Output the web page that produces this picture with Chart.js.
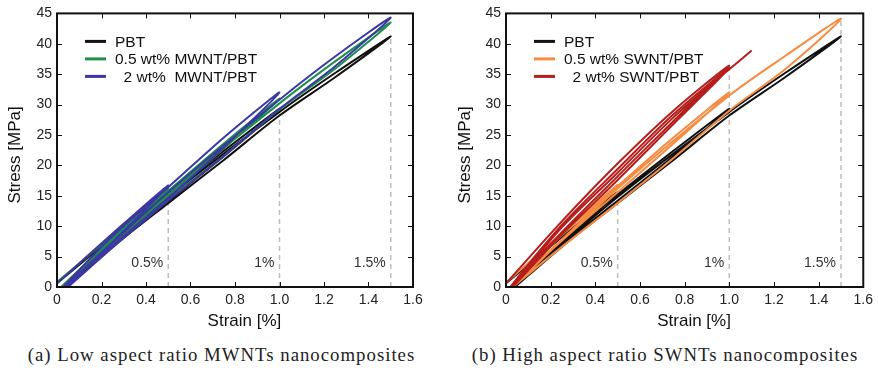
<!DOCTYPE html>
<html>
<head>
<meta charset="utf-8">
<script src="https://cdn.jsdelivr.net/npm/chart.js@4.4.0/dist/chart.umd.min.js"></script>
<style>
  body { margin: 0; background: #fff; width: 878px; height: 370px; position: relative; overflow: hidden; }
  canvas { position: absolute; top: 0; }
  #chartA { left: 0; }
  #chartB { left: 440px; }
  .caption { position: absolute; top: 344px; font-family: "Liberation Serif", serif; font-size: 18.8px; letter-spacing: 1px; text-align: center; color: #222; white-space: nowrap; }
</style>
</head>
<body>
<canvas id="chartA" width="440" height="340"></canvas>
<canvas id="chartB" width="438" height="340"></canvas>
<div class="caption" style="left:0; width:443px;">(a) Low aspect ratio MWNTs nanocomposites</div>
<div class="caption" style="left:440px; width:450px;">(b) High aspect ratio SWNTs nanocomposites</div>
<script>
// axis ticks
const xTicks = [0, 0.2, 0.4, 0.6, 0.8, 1, 1.2, 1.4, 1.6];
const yTicks = [0, 5, 10, 15, 20, 25, 30, 35, 40, 45];

// strain levels of the cycles (dashed markers)
const markX = [0.5, 1, 1.5];
const markLabels = ['0.5%', '1%', '1.5%'];
const markTopA = [14, 28.5, 41.5];
const markTopB = [14, 36, 44];

// PBT (same in both panels)
const pbtX = [0, 0.25, 0.5, 0.25, 0.02, 0.25, 0.5, 0.75, 1.0, 0.75, 0.5, 0.25, 0.03, 0.5, 1.0, 1.25, 1.5, 1.25, 1.0, 0.75, 0.5, 0.25, 0.04];
const pbtY = [0.6, 8.2, 15.6, 7.2, 0, 7.6, 15.2, 22.4, 29.3, 21.5, 14.2, 6.8, 0, 14.8, 28.8, 35.2, 41.2, 34.5, 28.2, 20.9, 13.8, 6.6, 0];

// 0.5 wt% MWNT/PBT
const mw05X = [0, 0.25, 0.5, 0.25, 0.02, 0.25, 0.5, 0.75, 1.0, 0.75, 0.5, 0.25, 0.03, 0.5, 1.0, 1.25, 1.5, 1.25, 1.0, 0.75, 0.5, 0.25, 0.03];
const mw05Y = [0.8, 8.5, 16.2, 7.6, 0, 8.0, 15.8, 23.6, 31.0, 22.8, 15.0, 7.2, 0, 15.4, 30.2, 37.1, 43.5, 35.9, 29.2, 21.6, 14.4, 6.8, 0];

// 2 wt% MWNT/PBT
const mw2X = [0, 0.25, 0.5, 0.25, 0.03, 0.25, 0.5, 0.75, 1.0, 0.75, 0.5, 0.25, 0.04, 0.5, 1.0, 1.25, 1.5, 1.25, 1.0, 0.75, 0.5, 0.25, 0.05];
const mw2Y = [0.6, 8.8, 16.7, 7.4, 0, 8.4, 16.4, 24.6, 32.0, 23.0, 14.6, 6.8, 0, 15.6, 30.8, 37.9, 44.3, 36.3, 29.3, 21.6, 14.2, 6.5, 0];

// 0.5 wt% SWNT/PBT
const sw05X = [0, 0.25, 0.5, 0.25, 0.02, 0.25, 0.5, 0.75, 1.0, 0.75, 0.5, 0.25, 0.03, 0.5, 1.0, 1.25, 1.5, 1.25, 1.0, 0.75, 0.5, 0.25, 0.03];
const sw05Y = [0.7, 8.8, 16.8, 7.8, 0, 8.5, 16.6, 24.6, 32.0, 23.6, 15.6, 7.6, 0, 16.2, 31.5, 38.0, 44.1, 35.8, 29.0, 21.2, 13.8, 6.6, 0];

// 2 wt% SWNT/PBT (sample broke at 1.1 %)
const sw2X = [0, 0.25, 0.5, 0.75, 1.0, 0.75, 0.5, 0.25, 0.02, 0.25, 0.5, 0.75, 1.0, 0.75, 0.5, 0.25, 0.03, 0.25, 0.5, 0.75, 1.0, 1.1];
const sw2Y = [0.6, 10.8, 20.3, 29.0, 36.4, 27.3, 18.2, 9.0, 0, 10.2, 19.4, 28.4, 36.0, 26.8, 17.6, 8.6, 0, 9.8, 18.8, 27.9, 35.8, 38.9];

const FONT = '"Liberation Sans", Arial, sans-serif';

function pts(xs, ys) {
  return xs.map((v, i) => ({ x: v, y: ys[i] }));
}

function series(label, xs, ys, color, order) {
  return {
    label: label, data: pts(xs, ys), borderColor: color, backgroundColor: color,
    borderWidth: 2, pointRadius: 0, tension: 0.3, order: order, showLine: true
  };
}

function markers(tops) {
  return markX.map((v, i) => ({
    label: '', data: [{ x: v, y: 0 }, { x: v, y: tops[i] }],
    borderColor: '#bdbdbd', borderWidth: 1.5, borderDash: [5, 4],
    pointRadius: 0, order: 10, showLine: true, isMarker: true
  }));
}

// box, inward ticks, strain labels and legend
const framePlugin = {
  id: 'frame',
  afterDatasetsDraw(chart) {
    const { ctx, chartArea: a, scales: { x, y } } = chart;
    ctx.save();
    ctx.strokeStyle = '#111';
    ctx.lineWidth = 1;
    ctx.beginPath();
    x.ticks.forEach(t => {
      const px = Math.round(x.getPixelForValue(t.value)) + 0.5;
      ctx.moveTo(px, a.bottom); ctx.lineTo(px, a.bottom - 5);
      ctx.moveTo(px, a.top); ctx.lineTo(px, a.top + 5);
    });
    y.ticks.forEach(t => {
      const py = Math.round(y.getPixelForValue(t.value)) + 0.5;
      ctx.moveTo(a.left, py); ctx.lineTo(a.left + 5, py);
      ctx.moveTo(a.right, py); ctx.lineTo(a.right - 5, py);
    });
    ctx.stroke();
    ctx.lineWidth = 2;
    ctx.strokeRect(a.left, a.top, a.right - a.left, a.bottom - a.top);

    ctx.fillStyle = '#333';
    ctx.font = '14px ' + FONT;
    ctx.textAlign = 'right';
    ctx.textBaseline = 'middle';
    markX.forEach((v, i) => {
      ctx.fillText(markLabels[i], x.getPixelForValue(v) - 5, y.getPixelForValue(4));
    });

    ctx.font = '15.5px ' + FONT;
    ctx.textAlign = 'left';
    ctx.fillStyle = '#111';
    const items = chart.data.datasets.filter(d => !d.isMarker);
    items.forEach((d, i) => {
      const ly = a.top + 28 + i * 17.5;
      ctx.strokeStyle = d.borderColor;
      ctx.lineWidth = 3;
      ctx.beginPath();
      ctx.moveTo(a.left + 28, ly); ctx.lineTo(a.left + 49, ly);
      ctx.stroke();
      ctx.fillText(d.label, a.left + 58, ly + 1);
    });
    ctx.restore();
  }
};

function makeChart(id, datasets, yWidth, padRight, yTitlePad) {
  return new Chart(document.getElementById(id), {
    type: 'scatter',
    data: { datasets: datasets },
    plugins: [framePlugin],
    options: {
      responsive: false,
      animation: false,
      devicePixelRatio: 1,
      layout: { padding: { left: 0, top: 13, right: padRight, bottom: 0 } },
      plugins: { legend: { display: false }, tooltip: { enabled: false } },
      scales: {
        x: {
          type: 'linear', min: 0, max: 1.6,
          afterFit: s => { s.height = 53; },
          afterBuildTicks: s => { s.ticks = xTicks.map(v => ({ value: v })); },
          grid: { display: false, drawTicks: false },
          border: { display: false },
          ticks: { font: { family: FONT, size: 14 }, color: '#222', padding: 5 },
          title: { display: true, text: '    Strain [%]', font: { family: FONT, size: 17 }, color: '#111', padding: { top: 0, bottom: 8 } }
        },
        y: {
          type: 'linear', min: 0, max: 45,
          afterFit: s => { s.width = yWidth; },
          afterBuildTicks: s => { s.ticks = yTicks.map(v => ({ value: v })); },
          grid: { display: false, drawTicks: false },
          border: { display: false },
          ticks: { font: { family: FONT, size: 14 }, color: '#222', padding: 5 },
          title: { display: true, text: 'Stress [MPa]  ', font: { family: FONT, size: 17 }, color: '#111', padding: { top: yTitlePad, bottom: 0 } }
        }
      }
    }
  });
}

makeChart('chartA', [
  series('PBT', pbtX, pbtY, '#111111', 3),
  series('0.5 wt% MWNT/PBT', mw05X, mw05Y, '#1b8f4c', 2),
  series('  2 wt%  MWNT/PBT', mw2X, mw2Y, '#3d37a3', 1),
  ...markers(markTopA)
], 57, 27, 5);

makeChart('chartB', [
  series('PBT', pbtX, pbtY, '#111111', 3),
  series('0.5 wt% SWNT/PBT', sw05X, sw05Y, '#f68b42', 2),
  series('  2 wt% SWNT/PBT', sw2X, sw2Y, '#b41e1c', 1),
  ...markers(markTopB)
], 66, 14, 15);
</script>
</body>
</html>
